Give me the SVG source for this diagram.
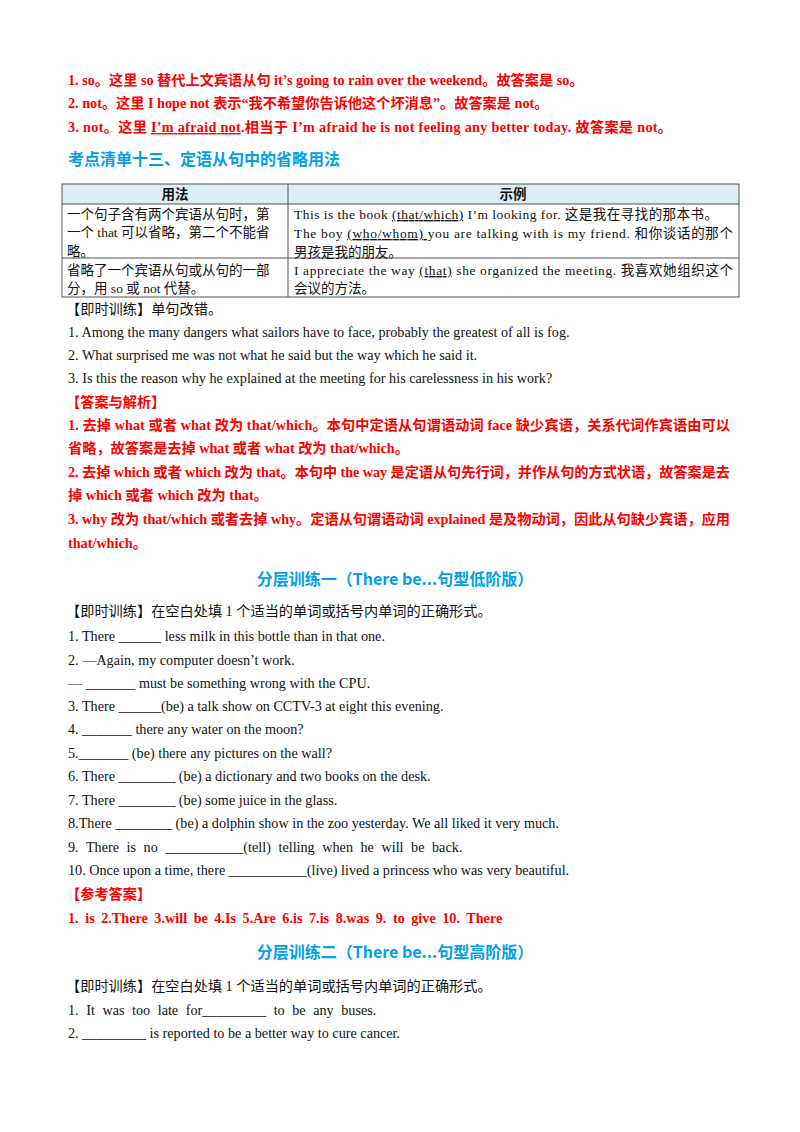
<svg xmlns="http://www.w3.org/2000/svg" width="800" height="1132" viewBox="0 0 800 1132" xml:space="preserve">
<style>
text{font-family:"Liberation Serif","Noto Sans CJK SC",serif;font-size:14.2px;fill:#111}
.r{fill:#ff0000;font-weight:bold}
.h{font-family:"Noto Sans CJK SC","Liberation Sans",sans-serif;font-weight:bold;fill:#00a0e9;font-size:16px}
.th{font-family:"Noto Sans CJK SC","Liberation Sans",sans-serif;font-weight:bold;font-size:13.5px}
.t{font-size:13.5px}
.u{text-decoration:underline}
</style>
<rect width="800" height="1132" fill="#fff"/>
<g id="answers1">
<text class="r" x="68" y="85">1. so。这里 so 替代上文宾语从句 it’s going to rain over the weekend。故答案是 so。</text>
<text class="r" x="68" y="108">2. not。这里 I hope not 表示“我不希望你告诉他这个坏消息”。故答案是 not。</text>
<text class="r" x="68" y="132" textLength="604" lengthAdjust="spacing">3.  not。这里 <tspan class="u">I’m afraid not</tspan>.相当于 I’m  afraid  he  is  not  feeling  any  better  today. 故答案是 not。</text>
</g>
<text class="h" x="68" y="165">考点清单十三、定语从句中的省略用法</text>
<g id="table">
<rect x="62" y="184" width="677" height="20" fill="#dbeef4"/>
<g fill="none" stroke="#555" stroke-width="1">
<rect x="62" y="184" width="677" height="113"/>
<line x1="62" y1="204" x2="739" y2="204"/>
<line x1="62" y1="258" x2="739" y2="258"/>
<line x1="288" y1="184" x2="288" y2="297"/>
</g>
<text class="th" x="175" y="199" text-anchor="middle">用法</text>
<text class="th" x="513" y="199" text-anchor="middle">示例</text>
<text class="t" x="67" y="219">一个句子含有两个宾语从句时，第</text>
<text class="t" x="67" y="237">一个 that 可以省略，第二个不能省</text>
<text class="t" x="67" y="256">略。</text>
<text class="t" x="294" y="219" textLength="424" lengthAdjust="spacing">This is the book  <tspan class="u">(that/which)</tspan>  I’m looking for.  这是我在寻找的那本书。</text>
<text class="t" x="294" y="238" textLength="439" lengthAdjust="spacing">The boy  <tspan class="u">(who/whom)  </tspan>you are talking with is my friend.  和你谈话的那个</text>
<text class="t" x="294" y="257">男孩是我的朋友。</text>
<text class="t" x="67" y="275">省略了一个宾语从句或从句的一部</text>
<text class="t" x="67" y="293">分，用 so 或 not 代替。</text>
<text class="t" x="294" y="275" textLength="439" lengthAdjust="spacing">I appreciate the way  <tspan class="u">(that)</tspan>  she organized the meeting.  我喜欢她组织这个</text>
<text class="t" x="294" y="293">会议的方法。</text>
</g>
<g id="practice1">
<text x="66" y="314">【即时训练】单句改错。</text>
<text x="68" y="337">1. Among the many dangers what sailors have to face, probably the greatest of all is fog.</text>
<text x="68" y="360">2. What surprised me was not what he said but the way which he said it.</text>
<text x="68" y="383">3.  Is this the reason  why  he explained  at the meeting for his carelessness in his work?</text>
<text class="r" x="66" y="407">【答案与解析】</text>
<text class="r" x="68" y="430" textLength="662" lengthAdjust="spacing">1.  去掉 what 或者 what 改为 that/which。本句中定语从句谓语动词 face 缺少宾语，关系代词作宾语由可以</text>
<text class="r" x="68" y="453">省略，故答案是去掉 what 或者 what 改为 that/which。</text>
<text class="r" x="68" y="477" textLength="662" lengthAdjust="spacing">2.  去掉 which 或者 which 改为 that。本句中 the way 是定语从句先行词，并作从句的方式状语，故答案是去</text>
<text class="r" x="68" y="500">掉 which 或者 which 改为 that。</text>
<text class="r" x="68" y="524" textLength="662" lengthAdjust="spacing">3.  why 改为 that/which 或者去掉 why。定语从句谓语动词 explained 是及物动词，因此从句缺少宾语，应用</text>
<text class="r" x="68" y="548">that/which。</text>
</g>
<text class="h" x="395" y="585" text-anchor="middle">分层训练一（There be...句型低阶版）</text>
<g id="practice2">
<text x="66" y="616">【即时训练】在空白处填 1 个适当的单词或括号内单词的正确形式。</text>
<text x="68" y="641">1. There  ______ less milk in this bottle than in that one.</text>
<text x="68" y="665">2. —Again, my computer doesn’t work.</text>
<text x="68" y="688">—  _______ must be something wrong with the CPU.</text>
<text x="68" y="711">3. There ______(be)  a talk show on CCTV-3 at eight this evening.</text>
<text x="68" y="734">4.  _______ there any water on the moon?</text>
<text x="68" y="758">5._______ (be) there any pictures on the wall?</text>
<text x="68" y="781">6. There ________ (be) a dictionary and two books on the desk.</text>
<text x="68" y="805">7. There ________ (be) some juice in the glass.</text>
<text x="68" y="828">8.There  ________ (be) a dolphin show in the zoo yesterday. We all liked it very much.</text>
<text x="68" y="852" word-spacing="4">9. There is no ___________(tell) telling when he will be back.</text>
<text x="68" y="875">10.  Once upon a time, there  ___________(live)  lived a princess who was very beautiful.</text>
<text class="r" x="66" y="899">【参考答案】</text>
<text class="r" x="68" y="923" word-spacing="3">1. is 2.There 3.will be 4.Is 5.Are 6.is 7.is 8.was 9. to give 10. There</text>
</g>
<text class="h" x="395" y="958" text-anchor="middle">分层训练二（There be...句型高阶版）</text>
<g id="practice3">
<text x="66" y="991">【即时训练】在空白处填 1 个适当的单词或括号内单词的正确形式。</text>
<text x="68" y="1015" word-spacing="4">1. It was too late for_________ to be any buses.</text>
<text x="68" y="1038">2.  _________  is reported to be a better way to cure cancer.</text>
</g>
</svg>
